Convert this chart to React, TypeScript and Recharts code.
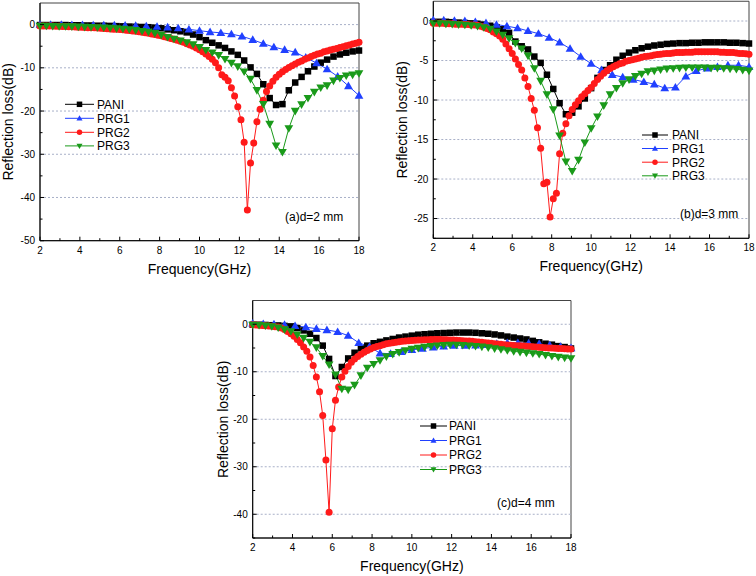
import React from 'react';
import { LineChart, Line, XAxis, YAxis, ReferenceLine, ReferenceArea, Label } from 'recharts';

const FONT = '"Liberation Sans", Arial, Helvetica, sans-serif';

// ---- frequency grids (GHz) ----
const freqCoarse = [2, 2.32, 2.64, 2.96, 3.28, 3.6, 3.92, 4.24, 4.56, 4.88, 5.2, 5.52, 5.84, 6.16, 6.48, 6.8, 7.12, 7.44, 7.76, 8.08, 8.4, 8.72, 9.04, 9.36, 9.68, 10, 10.32, 10.64, 10.96, 11.28, 11.6, 11.92, 12.24, 12.56, 12.88, 13.2, 13.52, 13.84, 14.16, 14.48, 14.8, 15.12, 15.44, 15.76, 16.08, 16.4, 16.72, 17.04, 17.36, 17.68, 18];
const freqSparse = [2, 2.53, 3.07, 3.6, 4.13, 4.67, 5.2, 5.73, 6.27, 6.8, 7.33, 7.87, 8.4, 8.93, 9.47, 10, 10.53, 11.07, 11.6, 12.13, 12.67, 13.2, 13.73, 14.27, 14.8, 15.33, 15.87, 16.4, 16.93, 17.47, 18];
const freqFine = [2, 2.16, 2.32, 2.48, 2.64, 2.8, 2.96, 3.12, 3.28, 3.44, 3.6, 3.76, 3.92, 4.08, 4.24, 4.4, 4.56, 4.72, 4.88, 5.04, 5.2, 5.36, 5.52, 5.68, 5.84, 6, 6.16, 6.32, 6.48, 6.64, 6.8, 6.96, 7.12, 7.28, 7.44, 7.6, 7.76, 7.92, 8.08, 8.24, 8.4, 8.56, 8.72, 8.88, 9.04, 9.2, 9.36, 9.52, 9.68, 9.84, 10, 10.16, 10.32, 10.48, 10.64, 10.8, 10.96, 11.12, 11.28, 11.44, 11.6, 11.76, 11.92, 12.08, 12.24, 12.4, 12.56, 12.72, 12.88, 13.04, 13.2, 13.36, 13.52, 13.68, 13.84, 14, 14.16, 14.32, 14.48, 14.64, 14.8, 14.96, 15.12, 15.28, 15.44, 15.6, 15.76, 15.92, 16.08, 16.24, 16.4, 16.56, 16.72, 16.88, 17.04, 17.2, 17.36, 17.52, 17.68, 17.84, 18];

// ---- (a) d = 2 mm ----
const paniA = [-0.1, -0.1, -0.1, -0.1, -0.1, -0.15, -0.15, -0.2, -0.2, -0.25, -0.25, -0.3, -0.35, -0.4, -0.45, -0.5, -0.55, -0.6, -0.7, -0.85, -1.1, -1.3, -1.55, -1.8, -2.3, -2.9, -3.6, -4.2, -4.8, -5.4, -6.2, -7.0, -8.3, -9.9, -11.4, -13.8, -17.0, -18.6, -18.4, -15.2, -13.4, -12.1, -10.8, -9.7, -8.8, -8.1, -7.4, -6.9, -6.5, -6.2, -6.0];
const prg1A = [0, 0, 0, -0.05, -0.05, -0.1, -0.1, -0.15, -0.2, -0.25, -0.35, -0.45, -0.6, -0.8, -1.1, -1.4, -1.7, -1.9, -2.2, -2.7, -3.5, -4.4, -5.2, -5.8, -6.4, -7.6, -8.9, -10.3, -12.0, -14.2, -16.4];
const prg2A = [-0.3, -0.3, -0.3, -0.35, -0.35, -0.4, -0.4, -0.45, -0.45, -0.5, -0.5, -0.55, -0.6, -0.6, -0.65, -0.7, -0.7, -0.75, -0.8, -0.85, -0.9, -0.95, -1.0, -1.05, -1.1, -1.15, -1.2, -1.3, -1.35, -1.45, -1.55, -1.65, -1.75, -1.9, -2.0, -2.15, -2.3, -2.45, -2.6, -2.8, -3.0, -3.2, -3.4, -3.6, -3.85, -4.1, -4.4, -4.7, -5.0, -5.4, -5.8, -6.3, -6.8, -7.4, -8.0, -8.8, -10.0, -11.6, -12.2, -13.0, -14.6, -16.5, -19.0, -22.0, -27.2, -42.9, -32.0, -27.4, -22.5, -19.6, -17.5, -15.5, -14.2, -13.1, -12.2, -11.5, -10.9, -10.4, -9.9, -9.5, -9.1, -8.7, -8.4, -8.0, -7.7, -7.4, -7.1, -6.8, -6.6, -6.3, -6.1, -5.9, -5.7, -5.5, -5.3, -5.1, -4.9, -4.7, -4.5, -4.3, -4.1];
const prg3A = [-0.3, -0.3, -0.35, -0.4, -0.4, -0.45, -0.5, -0.55, -0.6, -0.65, -0.7, -0.8, -0.9, -1.0, -1.1, -1.3, -1.5, -1.7, -2.0, -2.4, -2.9, -3.3, -3.7, -4.1, -4.6, -5.2, -5.9, -6.5, -7.1, -8.0, -8.9, -9.7, -10.9, -12.6, -15.2, -18.4, -23.0, -28.0, -29.5, -24.0, -20.0, -18.5, -17.0, -15.6, -14.6, -14.1, -13.0, -12.4, -11.8, -11.6, -11.3];

// ---- (b) d = 3 mm ----
const paniB = [-0.1, -0.1, -0.1, -0.15, -0.2, -0.25, -0.3, -0.35, -0.45, -0.6, -0.8, -1.05, -1.5, -2.6, -3.2, -3.6, -4.5, -5.3, -6.8, -8.6, -10.4, -11.8, -11.6, -10.8, -9.8, -8.5, -7.2, -6.2, -5.6, -4.9, -4.4, -4.0, -3.7, -3.45, -3.25, -3.1, -3.0, -2.9, -2.85, -2.8, -2.8, -2.75, -2.75, -2.7, -2.7, -2.7, -2.7, -2.75, -2.75, -2.8, -2.85];
const prg1B = [0.1, 0.1, 0.05, 0, -0.1, -0.25, -0.45, -0.65, -0.9, -1.25, -1.6, -2.1, -2.7, -3.5, -4.5, -5.4, -6.2, -6.8, -7.1, -7.4, -7.7, -8.0, -8.5, -8.4, -7.0, -6.3, -6.0, -5.8, -5.6, -5.6, -5.8];
const prg2B = [-0.3, -0.3, -0.3, -0.3, -0.35, -0.35, -0.35, -0.4, -0.4, -0.4, -0.45, -0.45, -0.5, -0.5, -0.55, -0.65, -0.8, -0.95, -1.1, -1.4, -1.6, -1.9, -2.3, -2.9, -3.5, -4.1, -4.8, -5.5, -6.2, -7.2, -8.3, -9.8, -11.3, -13.5, -16.1, -20.6, -20.4, -24.8, -22.5, -21.8, -16.8, -14.2, -13.0, -12.0, -11.2, -10.6, -10.1, -9.6, -9.2, -8.8, -8.4, -7.9, -7.4, -7.0, -6.6, -6.3, -6.0, -5.8, -5.6, -5.4, -5.3, -5.1, -5.0, -4.9, -4.8, -4.7, -4.6, -4.5, -4.45, -4.4, -4.3, -4.25, -4.2, -4.15, -4.1, -4.1, -4.05, -4.0, -4.0, -4.0, -3.95, -3.95, -3.95, -3.9, -3.9, -3.9, -3.9, -3.9, -3.9, -3.9, -3.9, -3.95, -3.95, -4.0, -4.0, -4.0, -4.05, -4.1, -4.1, -4.15, -4.2];
const prg3B = [-0.3, -0.3, -0.35, -0.4, -0.45, -0.5, -0.55, -0.65, -0.8, -1.0, -1.35, -1.75, -2.2, -2.8, -3.5, -4.4, -6.0, -7.6, -9.3, -11.2, -14.5, -17.8, -19.0, -17.6, -15.4, -13.6, -12.1, -10.7, -9.3, -8.5, -7.9, -7.4, -7.0, -6.7, -6.4, -6.3, -6.15, -6.05, -6.0, -5.95, -5.9, -5.9, -5.9, -5.9, -5.95, -5.95, -6.0, -6.05, -6.1, -6.2, -6.3];

// ---- (c) d = 4 mm ----
const paniC = [-0.1, -0.1, -0.15, -0.2, -0.25, -0.35, -0.45, -0.8, -1.3, -2.0, -2.9, -4.5, -7.3, -10.9, -9.0, -7.2, -6.0, -5.1, -4.5, -4.0, -3.7, -3.4, -3.1, -2.8, -2.6, -2.4, -2.2, -2.1, -2.0, -1.9, -1.85, -1.8, -1.75, -1.75, -1.75, -1.8, -1.9, -2.0, -2.15, -2.35, -2.6, -2.8, -3.0, -3.2, -3.5, -3.8, -4.1, -4.3, -4.6, -4.8, -5.1];
const prg1C = [0.2, 0.1, 0, -0.1, -0.35, -0.6, -0.95, -1.2, -1.6, -2.4, -3.9, -4.7, -6.1, -6.2, -5.8, -5.4, -5.1, -4.85, -4.65, -4.5, -4.5, -4.45, -4.3, -4.1, -3.9, -3.9, -4.0, -4.1, -4.4, -4.7, -5.0];
const prg2C = [-0.1, -0.15, -0.2, -0.25, -0.3, -0.35, -0.4, -0.5, -0.6, -0.8, -1.1, -1.5, -2.0, -2.5, -3.2, -3.9, -4.8, -5.7, -6.9, -8.7, -11.1, -14.2, -19.2, -28.6, -39.6, -22.0, -16.0, -13.2, -11.1, -9.9, -8.9, -8.0, -7.3, -6.8, -6.3, -5.9, -5.5, -5.2, -4.9, -4.7, -4.5, -4.3, -4.1, -4.0, -3.9, -3.8, -3.7, -3.6, -3.5, -3.45, -3.4, -3.35, -3.3, -3.3, -3.25, -3.25, -3.2, -3.2, -3.2, -3.2, -3.25, -3.25, -3.3, -3.3, -3.35, -3.4, -3.45, -3.5, -3.55, -3.6, -3.7, -3.75, -3.8, -3.9, -3.95, -4.0, -4.1, -4.15, -4.2, -4.3, -4.35, -4.4, -4.45, -4.5, -4.55, -4.6, -4.65, -4.7, -4.75, -4.8, -4.85, -4.9, -4.95, -5.0, -5.0, -5.05, -5.1, -5.1, -5.15, -5.2, -5.2];
const prg3C = [-0.15, -0.2, -0.3, -0.45, -0.7, -1.1, -1.5, -2.2, -2.9, -3.75, -4.9, -6.7, -8.5, -10.6, -13.6, -13.8, -12.8, -10.8, -9.2, -8.4, -7.6, -6.8, -6.3, -5.9, -5.5, -5.2, -5.0, -4.8, -4.6, -4.5, -4.4, -4.35, -4.35, -4.4, -4.5, -4.6, -4.75, -4.9, -5.1, -5.3, -5.5, -5.7, -5.85, -6.0, -6.15, -6.3, -6.5, -6.7, -6.9, -7.05, -7.2];

// ---- names, ticks, labels ----
const seriesNames = ['PANI', 'PRG1', 'PRG2', 'PRG3'];
const seriesColors = ['#000000', '#2040ff', '#ff1a1a', '#1a9a1a'];
const seriesShapes = ['square', 'triUp', 'circle', 'triDown'];
const xTicks = [2, 3, 4, 5, 6, 7, 8, 9, 10, 11, 12, 13, 14, 15, 16, 17, 18];
const yTicksA = [-50, -45, -40, -35, -30, -25, -20, -15, -10, -5, 0];
const yTicksB = [-27.5, -25, -22.5, -20, -17.5, -15, -12.5, -10, -7.5, -5, -2.5, 0];
const yTicksC = [-45, -40, -35, -30, -25, -20, -15, -10, -5, 0];
const gridA = [0, -10, -20, -30, -40];
const gridB = [0, -5, -10, -15, -20, -25];
const gridC = [0, -10, -20, -30, -40];
const xTitle = 'Frequency(GHz)';
const yTitle = 'Reflection loss(dB)';
const panelTags = ['(a)d=2 mm', '(b)d=3 mm', '(c)d=4 mm'];

const zip = (f: number[], v: number[]) => f.map((x, i) => ({ f: x, v: v[i] }));

function Marker({ cx, cy, shape, color, size }: any) {
  if (cx == null || cy == null) return null;
  const h = size / 2;
  if (shape === 'square') return <rect x={cx - h} y={cy - h} width={size} height={size} fill={color} />;
  if (shape === 'circle') return <circle cx={cx} cy={cy} r={h} fill={color} />;
  if (shape === 'triUp')
    return <polygon points={`${cx},${cy - h * 1.1} ${cx - h * 1.1},${cy + h * 0.8} ${cx + h * 1.1},${cy + h * 0.8}`} fill={color} />;
  return <polygon points={`${cx},${cy + h * 1.1} ${cx - h * 1.1},${cy - h * 0.8} ${cx + h * 1.1},${cy - h * 0.8}`} fill={color} />;
}

function Panel({ left, top, width, height, margin, yDomain, yTicks, majorStep, grid, data, yLabelOffset }: any) {
  const xTick = (p: any) => {
    const major = p.payload.value % 2 === 0;
    return (
      <g>
        <line x1={p.x} x2={p.x} y1={p.y} y2={p.y - (major ? 4 : 2.5)} stroke="#000" strokeWidth={1} />
        {major && (
          <text x={p.x} y={p.y + 13} textAnchor="middle" fontSize={10} fontFamily={FONT} fill="#000">
            {p.payload.value}
          </text>
        )}
      </g>
    );
  };
  const yTick = (p: any) => {
    const val = p.payload.value;
    const major = Math.abs(val % majorStep) < 1e-6;
    return (
      <g>
        <line x1={p.x} x2={p.x + (major ? 4 : 2.5)} y1={p.y} y2={p.y} stroke="#000" strokeWidth={1} />
        {major && (
          <text x={p.x - 5} y={p.y} dy="0.35em" textAnchor="end" fontSize={10} fontFamily={FONT} fill="#000">
            {val}
          </text>
        )}
      </g>
    );
  };
  return (
    <div style={{ position: 'absolute', left, top }}>
      <LineChart width={width} height={height} margin={margin}>
        <XAxis
          dataKey="f"
          type="number"
          domain={[2, 18]}
          ticks={xTicks}
          interval={0}
          tick={xTick}
          tickLine={false}
          tickSize={0}
          tickMargin={0}
          height={20}
          axisLine={{ stroke: '#000', strokeWidth: 1 }}
          allowDuplicatedCategory={false}
        >
          <Label value={xTitle} position="bottom" offset={3} fill="#000" style={{ fontSize: 14, fontFamily: FONT, fill: '#000' }} />
        </XAxis>
        <YAxis
          type="number"
          domain={yDomain}
          ticks={yTicks}
          interval={0}
          tick={yTick}
          tickLine={false}
          tickSize={0}
          tickMargin={0}
          width={40}
          allowDataOverflow
          axisLine={{ stroke: '#000', strokeWidth: 1 }}
        >
          <Label
            value={yTitle}
            angle={-90}
            position="insideLeft"
            offset={yLabelOffset}
            fill="#000"
            style={{ fontSize: 14, fontFamily: FONT, fill: '#000', textAnchor: 'middle' }}
          />
        </YAxis>
        {grid.map((g: number) => (
          <ReferenceLine key={g} y={g} stroke="#a8b0c8" strokeDasharray="2 2" strokeWidth={1} />
        ))}
        <ReferenceArea x1={2} x2={18} y1={yDomain[0]} y2={yDomain[1]} fill="none" fillOpacity={0} stroke="#444" strokeWidth={1} />
        {data.map((s: any, i: number) => (
          <Line
            key={seriesNames[i]}
            data={s}
            dataKey="v"
            name={seriesNames[i]}
            type="linear"
            stroke={seriesColors[i]}
            strokeWidth={1}
            isAnimationActive={false}
            activeDot={false}
            dot={(p: any) => (
              <Marker
                key={`${seriesNames[i]}-${p.index}`}
                cx={p.cx}
                cy={p.cy}
                shape={seriesShapes[i]}
                color={seriesColors[i]}
                size={seriesShapes[i] === 'square' ? 6.5 : seriesShapes[i] === 'circle' ? 7 : 8}
              />
            )}
          />
        ))}
      </LineChart>
    </div>
  );
}

function LegendBox({ x1, x2, tx, rows }: any) {
  return (
    <g>
      {seriesNames.map((n, i) => (
        <g key={n}>
          <line x1={x1} x2={x2} y1={rows[i]} y2={rows[i]} stroke={seriesColors[i]} strokeWidth={1} />
          <Marker cx={(x1 + x2) / 2} cy={rows[i]} shape={seriesShapes[i]} color={seriesColors[i]} size={5.5} />
          <text x={tx} y={rows[i] + 4.3} fontSize={12} fontFamily={FONT} fill="#000">
            {n}
          </text>
        </g>
      ))}
    </g>
  );
}

export default function App() {
  return (
    <div style={{ position: 'fixed', left: 0, top: 0, width: 756, height: 576, background: '#fff', overflow: 'hidden' }}>
      <Panel
        left={0}
        top={0}
        width={380}
        height={290}
        margin={{ top: 3, right: 21, bottom: 29.3, left: 0 }}
        yDomain={[-50, 5]}
        yTicks={yTicksA}
        majorStep={10}
        grid={gridA}
        yLabelOffset={8}
        data={[zip(freqCoarse, paniA), zip(freqSparse, prg1A), zip(freqFine, prg2A), zip(freqCoarse, prg3A)]}
      />
      <Panel
        left={380}
        top={0}
        width={376}
        height={290}
        margin={{ top: 1.25, right: 7, bottom: 31.7, left: 13.3 }}
        yDomain={[-27.5, 2.5]}
        yTicks={yTicksB}
        majorStep={5}
        grid={gridB}
        yLabelOffset={8.4}
        data={[zip(freqCoarse, paniB), zip(freqSparse, prg1B), zip(freqFine, prg2B), zip(freqCoarse, prg3B)]}
      />
      <Panel
        left={190}
        top={290}
        width={400}
        height={286}
        margin={{ top: 10.5, right: 19, bottom: 18, left: 22.7 }}
        yDomain={[-45, 5]}
        yTicks={yTicksC}
        majorStep={10}
        grid={gridC}
        yLabelOffset={10.3}
        data={[zip(freqCoarse, paniC), zip(freqSparse, prg1C), zip(freqFine, prg2C), zip(freqCoarse, prg3C)]}
      />
      <svg width={756} height={576} style={{ position: 'absolute', left: 0, top: 0, pointerEvents: 'none' }}>
        <LegendBox x1={65} x2={94} tx={97} rows={[104.3, 118.3, 132.3, 145.9]} />
        <LegendBox x1={642} x2={668} tx={672} rows={[135, 148.5, 162.2, 175.8]} />
        <LegendBox x1={420} x2={447} tx={449} rows={[426, 440.5, 455, 469.5]} />
        <text x={285} y={221} fontSize={12} fontFamily={FONT} fill="#000">{panelTags[0]}</text>
        <text x={680} y={217.5} fontSize={12} fontFamily={FONT} fill="#000">{panelTags[1]}</text>
        <text x={497} y={506.5} fontSize={12} fontFamily={FONT} fill="#000">{panelTags[2]}</text>
      </svg>
    </div>
  );
}
